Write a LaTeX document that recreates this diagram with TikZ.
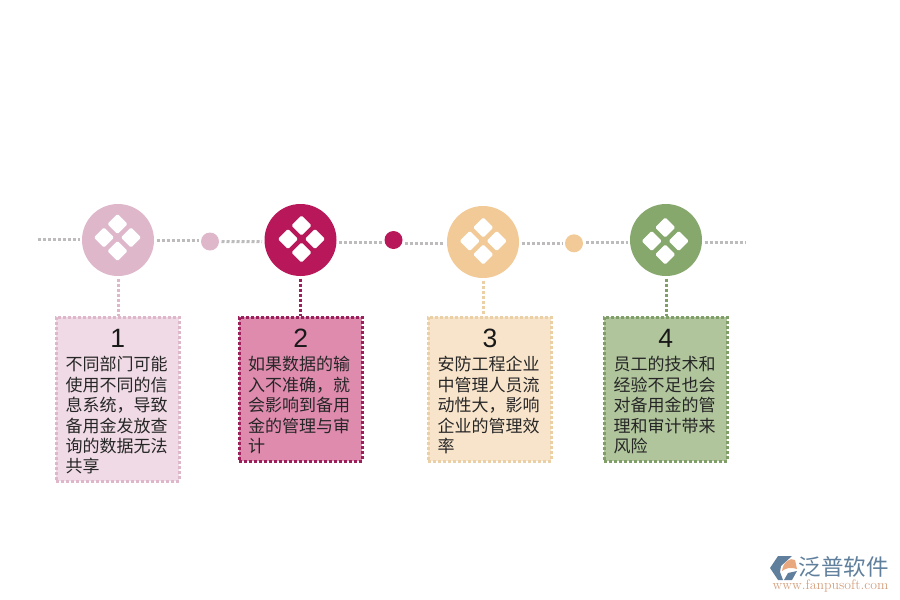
\documentclass[tikz,border=0pt]{standalone}
\usepackage{fontspec}
\setmainfont{Liberation Sans}
\newfontfamily\cjk{Noto Sans CJK SC}
\usetikzlibrary{shapes.geometric}
\definecolor{pinkc}{HTML}{DFB7CB}
\definecolor{rosec}{HTML}{B8175A}
\definecolor{sandc}{HTML}{F1CA97}
\definecolor{greenc}{HTML}{86A86D}
\definecolor{pinkf}{HTML}{EFDAE5}
\definecolor{rosef}{HTML}{DE8BAE}
\definecolor{sandf}{HTML}{F8E4CB}
\definecolor{greenf}{HTML}{B0C59C}
\definecolor{rosed}{HTML}{9B1F5B}
\definecolor{greend}{HTML}{7F9E68}
\definecolor{sandd}{HTML}{EBCFA5}
\definecolor{dotgray}{HTML}{BDBBBC}
\definecolor{logoblue}{HTML}{5F7F9C}
\definecolor{logoorange}{HTML}{E8A77C}
\tikzset{
	bigdot/.style={circle, fill=#1, minimum size=72pt, inner sep=0pt, outer sep=2.5pt},
	smalldot/.style={circle, fill=#1, minimum size=18pt, inner sep=0pt, outer sep=2.5pt},
	petal/.style={diamond, fill=white, rounded corners=1.5pt, minimum size=20.5pt, inner sep=0pt},
	dotline/.style={line width=3pt, dash pattern=on 3pt off 2pt},
	infobox/.style={draw=#1, line width=3pt, dash pattern=on 3pt off 2pt, minimum width=123pt, inner sep=0pt},
	numtext/.style={font=\fontsize{26.5}{26.5}\selectfont, text=black!90},
	bodytext/.style={font=\cjk\fontsize{17}{20.4}\selectfont, align=left, anchor=north west, inner sep=0pt, text=black!85}
}
\begin{document}
\begin{tikzpicture}[x=1pt,y=-1pt]
	\useasboundingbox (0,0) rectangle (900,600);
	% timeline
	\node[bigdot=pinkc] (c1) at (118,240) {};
	\node[smalldot=pinkc] (s1) at (210,241.5) {};
	\node[bigdot=rosec] (c2) at (300.5,240) {};
	\node[smalldot=rosec] (s2) at (393.5,240) {};
	\node[bigdot=sandc] (c3) at (483,242) {};
	\node[smalldot=sandc] (s3) at (574,243.3) {};
	\node[bigdot=greenc] (c4) at (666,240) {};
	\coordinate (startpt) at (38,239.3);
	\coordinate (endpt) at (745,242.3);
	\draw[dotline, dotgray] (startpt) -- ([yshift=.7pt]c1.west);
	\draw[dotline, dotgray] (c1.east) -- ([yshift=1.5pt]s1.west);
	\draw[dotline, dotgray] (s1.east) -- ([yshift=-1.7pt]c2.west);
	\draw[dotline, dotgray] ([yshift=-2.3pt]c2.east) -- ([yshift=-2.3pt]s2.west);
	\draw[dotline, dotgray] ([yshift=-3.3pt]s2.east) -- ([yshift=-1.3pt]c3.west);
	\draw[dotline, dotgray] ([yshift=-1.3pt]c3.east) -- (s3.west);
	\draw[dotline, dotgray] ([yshift=1pt]s3.east) -- ([yshift=-2.3pt]c4.west);
	\draw[dotline, dotgray] ([yshift=-2.3pt]c4.east) -- (endpt);
	% petals
	\foreach \nme/\px/\py in {p1/117.5/237.5, p2/301.5/239, p3/483.3/241, p4/665.3/241}{
		\node[petal] (\nme t) at (\px,\py-13.5) {};
		\node[petal] (\nme b) at (\px,\py+13.5) {};
		\node[petal] (\nme l) at (\px-13.5,\py) {};
		\node[petal] (\nme r) at (\px+13.5,\py) {};
	}
	% boxes
	\node[infobox=pinkc, fill=pinkf, minimum height=164pt] (b1) at (117.9,399) {};
	\node[infobox=rosed, fill=rosef, minimum height=144pt] (b2) at (300.5,389) {};
	\node[infobox=sandd, fill=sandf, minimum height=144pt] (b3) at (489.8,389) {};
	\node[infobox=greend, fill=greenf, minimum height=144pt] (b4) at (665.8,389) {};
	\draw[dotline, pinkc] (c1) -- (c1 |- b1.north);
	\draw[dotline, rosed] (c2) -- (c2 |- b2.north);
	\draw[dotline, sandd] (c3) -- (c3 |- b3.north);
	\draw[dotline, greend] (c4) -- (c4 |- b4.north);
	% numbers
	\node[numtext] (n1) at (117.7,338.5) {1};
	\node[numtext] (n2) at (300.7,338.5) {2};
	\node[numtext] (n3) at (490,338.5) {3};
	\node[numtext] (n4) at (665.7,338.5) {4};
	% texts
	\node[bodytext] (t1) at (65.5,356.3) {不同部门可能\\使用不同的信\\息系统，导致\\备用金发放查\\询的数据无法\\共享};
	\node[bodytext] (t2) at (248,356.3) {如果数据的输\\入不准确，就\\会影响到备用\\金的管理与审\\计};
	\node[bodytext] (t3) at (437.5,356.3) {安防工程企业\\中管理人员流\\动性大，影响\\企业的管理效\\率};
	\node[bodytext] (t4) at (613.5,356.3) {员工的技术和\\经验不足也会\\对备用金的管\\理和审计带来\\风险};
	% logo
	\fill[logoblue] (778,556) -- (792,556) -- (781,566) -- (780,572) -- (783,580) -- (778,580) -- (770,568) -- cycle;
	\fill[logoorange] (782,571) .. controls (783,562) and (790,557) .. (795,560) -- (797,569) .. controls (790,567) and (786,568) .. (782,571) -- cycle;
	\fill[logoblue] (784,580) -- (788,573) -- (797,571) -- (792,580) -- cycle;
	\node[font=\cjk\fontsize{22.5}{22.5}\selectfont, text=logoblue, inner sep=0pt] (logoname) at (843.5,567) {泛普软件};
	\node[font=\fontfamily{lmr}\fontsize{13.8}{13.8}\selectfont, text=logoorange!80!gray, inner sep=0pt] (logourl) at (830.5,586) {www.fanpusoft.com};
\end{tikzpicture}
\end{document}
